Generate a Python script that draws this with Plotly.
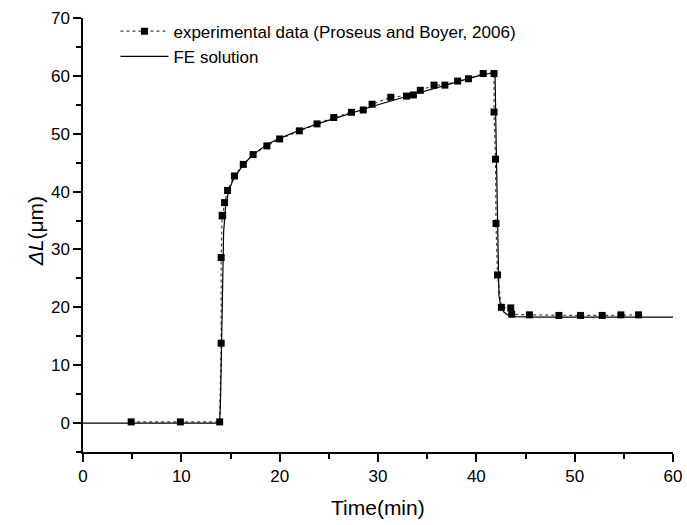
import plotly.graph_objects as go

# Experimental data (Proseus and Boyer, 2006)
exp_t = [4.9, 9.9, 13.9, 14.05, 14.05, 14.15, 14.2, 14.4, 14.7, 15.4, 16.3, 17.3, 18.7, 20.0,
         22.0, 23.8, 25.5, 27.3, 28.5, 29.4, 31.3, 32.9, 33.6, 34.3, 35.7, 36.8, 38.1,
         39.2, 40.7, 41.8, 41.8, 41.95, 42.0, 42.15, 42.55, 43.5, 43.6, 45.4, 48.4,
         50.6, 52.8, 54.7, 56.5]
exp_v = [0.2, 0.2, 0.2, 13.8, 28.6, 35.8, 35.9, 38.1, 40.2, 42.7, 44.7, 46.4, 47.9, 49.1,
         50.5, 51.7, 52.8, 53.7, 54.1, 55.1, 56.3, 56.5, 56.7, 57.5, 58.4, 58.4, 59.1,
         59.5, 60.4, 60.4, 53.75, 45.6, 34.5, 25.6, 20.0, 19.9, 18.8, 18.7, 18.6,
         18.6, 18.6, 18.7, 18.7]

# FE solution
fe_t = [0, 13.9, 14.0, 14.1, 14.2, 14.3, 14.5, 14.8, 15.2, 15.7, 16.3, 17.0, 18.0, 19.0,
        20.0, 22.0, 24.0, 26.0, 28.0, 30.0, 32.0, 34.0, 36.0, 38.0, 40.0, 41.5, 41.9,
        42.0, 42.1, 42.2, 42.3, 42.5, 42.8, 43.2, 44.0, 46.0, 50.0, 55.0, 60.0]
fe_v = [0, 0, 5, 15, 26, 33, 37.5, 40.0, 41.8, 43.2, 44.6, 45.9, 47.3, 48.4,
        49.2, 50.6, 51.8, 52.9, 54.0, 55.0, 56.0, 57.0, 58.0, 59.0, 59.9, 60.5, 60.6,
        50.0, 38.0, 28.0, 22.0, 20.0, 19.2, 18.7, 18.4, 18.3, 18.3, 18.3, 18.3]

x_ticks = [0, 10, 20, 30, 40, 50, 60]
y_ticks = [0, 10, 20, 30, 40, 50, 60, 70]

FONT = "Liberation Sans, Arial, sans-serif"

fig = go.Figure()
fig.add_trace(go.Scatter(
    x=exp_t, y=exp_v, mode="lines+markers",
    name="experimental data (Proseus and Boyer, 2006)",
    line=dict(color="#444444", width=1.2, dash="dot"),
    marker=dict(symbol="square", size=7, color="black"),
))
fig.add_trace(go.Scatter(
    x=fe_t, y=fe_v, mode="lines", name="FE solution",
    line=dict(color="black", width=1.2),
))

axis_common = dict(
    showgrid=False, zeroline=False, showline=True, linecolor="black", linewidth=1.5,
    ticks="outside", ticklen=8, tickwidth=1.5, tickcolor="black",
    tickfont=dict(family=FONT, size=17, color="black"), automargin=False,
)
fig.update_xaxes(range=[0, 60], tickvals=x_ticks, ticktext=[str(v) for v in x_ticks],
                 minor=dict(dtick=5, tick0=0, ticks="outside", ticklen=5, tickwidth=1.5,
                            tickcolor="black", showgrid=False),
                 **axis_common)
fig.update_yaxes(range=[-5, 70], tickvals=y_ticks, ticktext=[str(v) for v in y_ticks],
                 minor=dict(dtick=5, tick0=0, ticks="outside", ticklen=5, tickwidth=1.5,
                            tickcolor="black", showgrid=False),
                 **axis_common)

fig.add_annotation(text="Time(min)", xref="paper", yref="paper", x=0.5, y=-0.129,
                   xanchor="center", yanchor="middle", showarrow=False,
                   font=dict(family=FONT, size=21, color="black"))
fig.add_annotation(text="<i>ΔL</i>(μm)", xref="paper", yref="paper", x=-0.08, y=0.508,
                   xanchor="center", yanchor="middle", showarrow=False, textangle=-90,
                   font=dict(family=FONT, size=21, color="black"))

fig.update_layout(
    width=687, height=525,
    margin=dict(l=83, r=14, t=18, b=73, autoexpand=False),
    paper_bgcolor="white", plot_bgcolor="white",
    showlegend=True,
    legend=dict(x=0.055, y=1.01, xanchor="left", yanchor="top", itemwidth=48,
                bgcolor="rgba(0,0,0,0)", borderwidth=0, tracegroupgap=0,
                font=dict(family=FONT, size=17, color="black")),
)

fig.write_html("out.html")
